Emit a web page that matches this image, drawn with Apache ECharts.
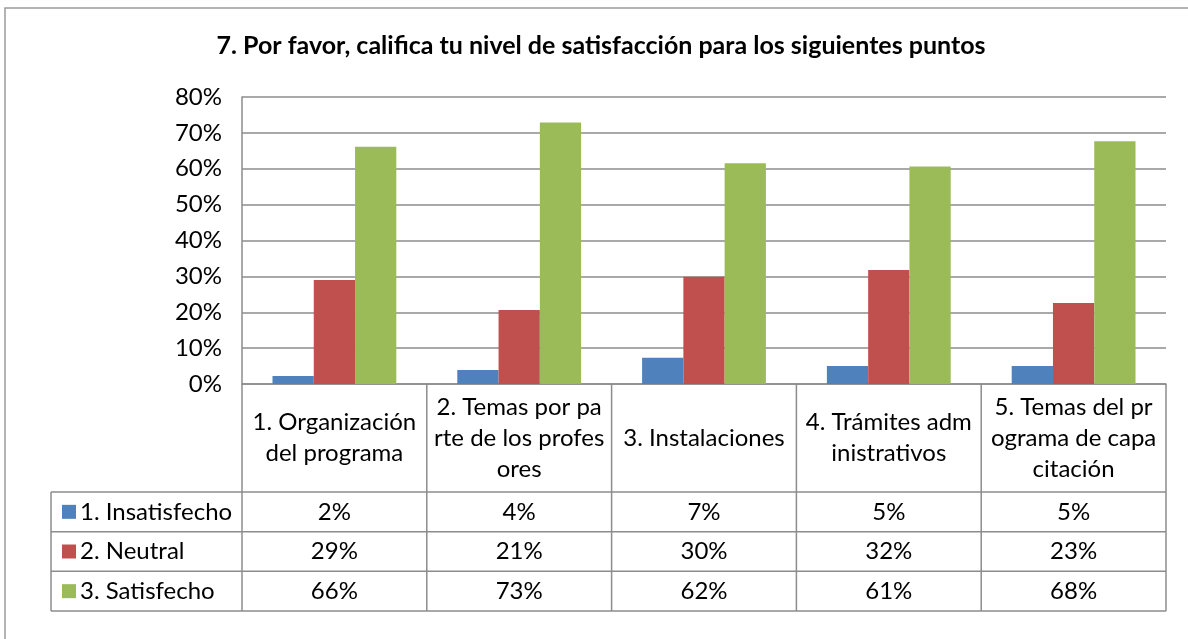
<!DOCTYPE html>
<html>
<head>
<meta charset="utf-8">
<title>Satisfacción</title>
<script src="https://cdn.jsdelivr.net/npm/echarts@6/dist/echarts.min.js"></script>
<style>
  html, body { margin: 0; padding: 0; background: #fff; }
  #chart { width: 1188px; height: 639px; }
</style>
</head>
<body>
<div id="chart"></div>
<script>
/* categorías (con los cortes de línea del original) */
var categories = [
  '1. Organización\ndel programa',
  '2. Temas por pa\nrte de los profes\nores',
  '3. Instalaciones',
  '4. Trámites adm\ninistrativos',
  '5. Temas del pr\nograma de capa\ncitación'
];

/* series */
var seriesNames = ['1. Insatisfecho', '2. Neutral', '3. Satisfecho'];
var insatisfecho = [2.2, 3.9, 7.3, 5.0, 5.0];
var neutral = [29.0, 20.6, 29.9, 31.8, 22.6];
var satisfecho = [66.1, 72.9, 61.5, 60.6, 67.7];
var colors = ['#4F81BD', '#C0504D', '#9BBB59'];

/* eje Y */
var yMin = 0, yMax = 80, yStep = 10;

/* layout */
var FONT = 'Lato';
var PLOT_L = 242, PLOT_R = 1166, PLOT_T = 97, PLOT_B = 384;
var HEAD_B = 492, TABLE_B = 611, TABLE_L = 51;
var LINE = '#8c8c8c';

var allSeries = [insatisfecho, neutral, satisfecho];

/**
 * Tabla de datos debajo del gráfico (líneas + textos)
 */
function buildTable() {
  var els = [];
  var colW = (PLOT_R - PLOT_L) / categories.length;
  var rowH = (TABLE_B - HEAD_B) / seriesNames.length;
  var st = { stroke: LINE, lineWidth: 1.5 };

  // marco exterior del gráfico (solo arriba e izquierda visibles)
  els.push({ type: 'rect', shape: { x: 5, y: 8, width: 1300, height: 800 },
    style: { fill: null, stroke: '#9a9a9a', lineWidth: 1.5 }, silent: true });

  // verticales de la cabecera y de la tabla
  for (var i = 0; i <= categories.length; i++) {
    var x = PLOT_L + i * colW;
    els.push({ type: 'line', shape: { x1: x, y1: PLOT_B, x2: x, y2: TABLE_B }, style: st });
  }
  els.push({ type: 'line', shape: { x1: TABLE_L, y1: HEAD_B, x2: TABLE_L, y2: TABLE_B }, style: st });

  // horizontales
  for (var r = 0; r <= seriesNames.length; r++) {
    var y = HEAD_B + r * rowH;
    els.push({ type: 'line', shape: { x1: TABLE_L, y1: y, x2: PLOT_R, y2: y }, style: st });
  }

  // leyenda + valores
  for (var s = 0; s < seriesNames.length; s++) {
    var cy = HEAD_B + (s + 0.5) * rowH;
    els.push({ type: 'rect', shape: { x: 62, y: cy - 7, width: 14, height: 14 },
      style: { fill: colors[s] } });
    els.push({ type: 'text', x: 80, y: cy,
      style: { text: seriesNames[s], fill: '#000', font: '24px ' + FONT,
        textAlign: 'left', textVerticalAlign: 'middle' } });
    for (var c = 0; c < categories.length; c++) {
      els.push({ type: 'text', x: PLOT_L + (c + 0.5) * colW, y: cy,
        style: { text: Math.round(allSeries[s][c]) + '%', fill: '#000', font: '24px ' + FONT,
          textAlign: 'center', textVerticalAlign: 'middle' } });
    }
  }
  return els;
}

var chart = echarts.init(document.getElementById('chart'));

var option = {
  backgroundColor: '#fff',
  animation: false,
  textStyle: { fontFamily: FONT },
  title: {
    text: '7. Por favor, califica tu nivel de satisfacción para los siguientes puntos',
    left: 601,
    textAlign: 'center',
    top: 33,
    padding: 0,
    textStyle: { fontFamily: FONT, fontWeight: 'bold', fontSize: 25, color: '#000' }
  },
  grid: {
    left: PLOT_L,
    right: 1188 - PLOT_R,
    top: PLOT_T,
    bottom: 639 - PLOT_B,
    containLabel: false
  },
  xAxis: {
    type: 'category',
    data: categories,
    axisTick: { show: false },
    axisLine: { show: true, lineStyle: { color: LINE, width: 1.5 } },
    axisLabel: {
      interval: 0,
      margin: (HEAD_B - PLOT_B) / 2,
      verticalAlign: 'middle',
      lineHeight: 31,
      fontSize: 24,
      fontFamily: FONT,
      color: '#000'
    }
  },
  yAxis: {
    type: 'value',
    min: yMin,
    max: yMax,
    interval: yStep,
    axisLine: { show: true, lineStyle: { color: LINE, width: 1.5 } },
    axisTick: { show: false },
    axisLabel: {
      formatter: '{value}%',
      margin: 20,
      fontSize: 24,
      fontFamily: FONT,
      color: '#000'
    },
    splitLine: { show: true, lineStyle: { color: LINE, width: 1.5 } }
  },
  series: seriesNames.map(function (name, i) {
    return {
      name: name,
      type: 'bar',
      data: allSeries[i],
      barGap: '0%',
      barCategoryGap: '33%',
      itemStyle: { color: colors[i] }
    };
  }),
  graphic: buildTable()
};

chart.setOption(option);
</script>
</body>
</html>
